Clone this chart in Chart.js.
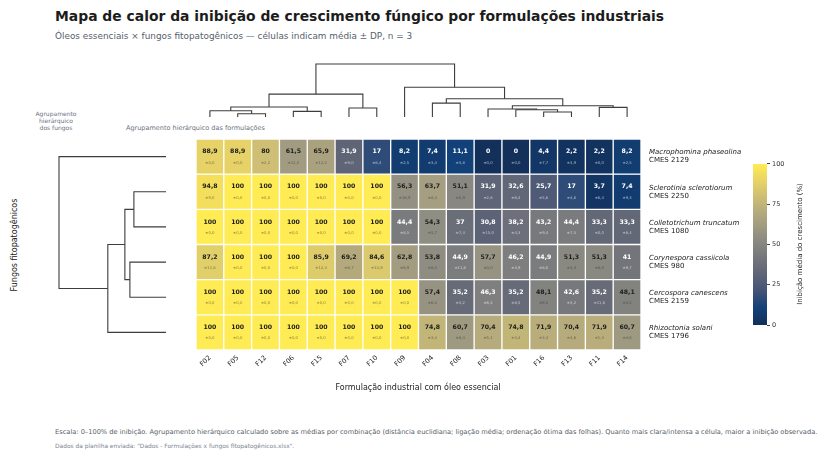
<!DOCTYPE html>
<html lang="pt-BR">
<head>
<meta charset="utf-8">
<script src="https://cdn.jsdelivr.net/npm/chart.js@4.4.1/dist/chart.umd.min.js"></script>
<style>
    body { margin: 0; background: #fff; font-family: "DejaVu Sans", sans-serif; }
    #page { position: relative; width: 821px; height: 451px; overflow: hidden; background: #fff; }
    .box { position: absolute; }
    .txt { position: absolute; white-space: nowrap; }
</style>
</head>
<body>
<div id="page">
    <div class="txt" style="left:55px; top:8px; font-size:13.9px; font-weight:bold; color:#1c1c1c;">Mapa de calor da inibição de crescimento fúngico por formulações industriais</div>
    <div class="txt" style="left:55px; top:31px; font-size:8.9px; color:#56606c;">Óleos essenciais × fungos fitopatogênicos — células indicam média ± DP, n = 3</div>

    <div class="txt" style="left:26px; top:110px; width:60px; text-align:center; font-size:6px; line-height:7px; color:#6b7280;">Agrupamento<br>hierárquico<br>dos fungos</div>
    <div class="txt" style="left:126px; top:124px; font-size:6.5px; color:#6b7280;">Agrupamento hierárquico das formulações</div>

    <div class="box" style="left:192px; top:60px;"><canvas id="dendroTop" width="453" height="61"></canvas></div>
    <div class="box" style="left:55px; top:135px;"><canvas id="dendroLeft" width="115" height="219"></canvas></div>
    <div class="box" style="left:150px; top:125px;"><canvas id="heatmap" width="600" height="260"></canvas></div>
    <div class="box" style="left:749px; top:158px;"><canvas id="colorbar" width="40" height="173"></canvas></div>

    <div class="txt" style="left:800px; top:244px; font-size:7px; color:#222; transform:translate(-50%,-50%) rotate(-90deg);">Inibição média do crescimento (%)</div>
    <div class="txt" style="left:14px; top:245px; font-size:8px; color:#222; transform:translate(-50%,-50%) rotate(-90deg);">Fungos fitopatogênicos</div>
    <div class="txt" style="left:418px; top:387px; font-size:8px; color:#222; transform:translate(-50%,-50%);">Formulação industrial com óleo essencial</div>

    <div class="txt" style="left:55px; top:428px; font-size:6.65px; color:#555d68;">Escala: 0–100% de inibição. Agrupamento hierárquico calculado sobre as médias por combinação (distância euclidiana; ligação média; ordenação ótima das folhas). Quanto mais clara/intensa a célula, maior a inibição observada.</div>
    <div class="txt" style="left:55px; top:443px; font-size:5.9px; color:#7b8491;">Dados da planilha enviada: "Dados - Formulações x fungos fitopatogênicos.xlsx".</div>
</div>

<script>
// Data
const formulacoes = ['F02', 'F05', 'F12', 'F06', 'F15', 'F07', 'F10', 'F09', 'F04', 'F08', 'F03', 'F01', 'F16', 'F13', 'F11', 'F14'];
const fungos = ['Macrophomina phaseolina', 'Sclerotinia sclerotiorum', 'Colletotrichum truncatum', 'Corynespora cassiicola', 'Cercospora canescens', 'Rhizoctonia solani'];
const isolados = ['CMES 2129', 'CMES 2250', 'CMES 1080', 'CMES 980', 'CMES 2159', 'CMES 1796'];

const mediaInibicao = [
    [88.9, 88.9, 80, 61.5, 65.9, 31.9, 17, 8.2, 7.4, 11.1, 0, 0, 4.4, 2.2, 2.2, 8.2],
    [94.8, 100, 100, 100, 100, 100, 100, 56.3, 63.7, 51.1, 31.9, 32.6, 25.7, 17, 3.7, 7.4],
    [100, 100, 100, 100, 100, 100, 100, 44.4, 54.3, 37, 30.8, 38.2, 43.2, 44.4, 33.3, 33.3],
    [87.2, 100, 100, 100, 85.9, 69.2, 84.6, 62.8, 53.8, 44.9, 57.7, 46.2, 44.9, 51.3, 51.3, 41],
    [100, 100, 100, 100, 100, 100, 100, 100, 57.4, 35.2, 46.3, 35.2, 48.1, 42.6, 35.2, 48.1],
    [100, 100, 100, 100, 100, 100, 100, 100, 74.8, 60.7, 70.4, 74.8, 71.9, 70.4, 71.9, 60.7]
];
const desvioPadrao = [
    [0, 0, 2.2, 12.2, 12.2, 9.0, 8.4, 2.5, 3.4, 3.8, 0, 0, 7.7, 3.9, 0, 2.5],
    [9.0, 0, 0, 0, 0, 0, 0, 18.9, 8.4, 5.9, 2.6, 6.4, 5.6, 4.6, 6.4, 9.3],
    [0, 0, 0, 0, 0, 0, 0, 6.5, 5.7, 7.4, 15.0, 4.3, 9.4, 7.5, 0, 6.4],
    [11.8, 0, 0, 0, 12.4, 6.7, 13.9, 8.9, 8.0, 11.8, 0, 3.9, 8.0, 4.4, 8.0, 9.7],
    [0, 0, 0, 0, 0, 0, 0, 0, 6.4, 3.2, 6.4, 8.5, 6.5, 3.2, 11.6, 3.2],
    [0, 0, 0, 0, 0, 0, 0, 0, 3.4, 8.4, 5.1, 3.4, 3.4, 4.6, 1.3, 4.6]
];

// linkage: [child a, child b, height]  (leaves = display order, clusters numbered from n)
const linkFormulacoes = [
    [1, 2, 10], [0, 16, 19], [3, 4, 17], [17, 18, 30], [5, 6, 27], [19, 20, 69],
    [8, 9, 42], [12, 13, 15], [11, 23, 22], [10, 24, 24], [14, 15, 29], [25, 26, 34],
    [22, 27, 55], [7, 28, 90], [21, 29, 160]
];
const linkFungos = [[1, 2, 96], [3, 4, 108], [6, 7, 123], [8, 5, 174], [0, 9, 320]];

const colorbarTicks = [0, 25, 50, 75, 100];

// cividis colormap
const cividisStops = ['#00204D', '#00336F', '#39486B', '#575C6D', '#707173', '#8A8779', '#A69D75', '#C4B56C', '#E4CF5B', '#FFEA46'];

function hexRgb(h) {
    return [parseInt(h.slice(1, 3), 16), parseInt(h.slice(3, 5), 16), parseInt(h.slice(5, 7), 16)];
}

function cividis(t, alpha = 1) {
    t = Math.max(0, Math.min(1, t));
    const p = t * (cividisStops.length - 1);
    const i = Math.min(Math.floor(p), cividisStops.length - 2);
    const f = p - i;
    const a = hexRgb(cividisStops[i]), b = hexRgb(cividisStops[i + 1]);
    const c = a.map((v, k) => Math.round(v + (b[k] - v) * f));
    return `rgba(${c[0]}, ${c[1]}, ${c[2]}, ${alpha})`;
}

const fmt = v => (Math.round(v * 10) / 10).toString().replace('.', ',');

// --- dendrogram links from linkage ---
function dendroLinks(n, merges) {
    const pos = [], hgt = [];
    for (let i = 0; i < n; i++) { pos[i] = i; hgt[i] = 0; }
    return merges.map(([a, b, h], k) => {
        pos[n + k] = (pos[a] + pos[b]) / 2;
        hgt[n + k] = h;
        return [[pos[a], hgt[a]], [pos[a], h], [pos[b], h], [pos[b], hgt[b]]];
    });
}

const lineStyle = { borderColor: '#3d3d3d', borderWidth: 1.1, pointRadius: 0, showLine: true, tension: 0, clip: false };
const baseOpts = {
    responsive: false,
    animation: false,
    events: [],
    plugins: { legend: { display: false }, tooltip: { enabled: false } }
};

// --- 1. Column dendrogram ---
new Chart(document.getElementById('dendroTop'), {
    type: 'scatter',
    data: {
        datasets: dendroLinks(formulacoes.length, linkFormulacoes).map(link => ({
            ...lineStyle,
            data: link.map(([p, h]) => ({ x: p, y: h }))
        }))
    },
    options: {
        ...baseOpts,
        layout: { padding: 4 },
        scales: {
            x: { display: false, min: -0.5, max: formulacoes.length - 0.5 },
            y: { display: false, min: 0, max: 160 }
        }
    }
});

// --- 2. Row dendrogram ---
new Chart(document.getElementById('dendroLeft'), {
    type: 'scatter',
    data: {
        datasets: dendroLinks(fungos.length, linkFungos).map(link => ({
            ...lineStyle,
            data: link.map(([p, h]) => ({ x: h, y: p }))
        }))
    },
    options: {
        ...baseOpts,
        layout: { padding: { left: 4, right: 4, top: 4, bottom: 4 } },
        scales: {
            x: { display: false, min: 0, max: 320, reverse: true },
            y: { display: false, min: -0.5, max: fungos.length - 0.5, reverse: true }
        }
    }
});

// --- 3. Heatmap ---
const cellText = {
    id: 'cellText',
    afterDatasetsDraw(chart) {
        const ctx = chart.ctx;
        ctx.save();
        ctx.textAlign = 'center';
        ctx.textBaseline = 'middle';
        chart.data.datasets.forEach((ds, r) => {
            chart.getDatasetMeta(r).data.forEach((bar, c) => {
                const v = mediaInibicao[r][c];
                const sd = desvioPadrao[r][c];
                const cy = (bar.y + bar.base) / 2;
                const dark = v >= 47;
                ctx.fillStyle = dark ? '#1e1e1e' : '#ffffff';
                ctx.font = 'bold 6.2px "DejaVu Sans"';
                ctx.fillText(fmt(v), bar.x, cy - 5);
                ctx.fillStyle = dark ? 'rgba(40,40,40,0.55)' : 'rgba(255,255,255,0.6)';
                ctx.font = '3.8px "DejaVu Sans"';
                ctx.fillText('±' + sd.toFixed(1).replace('.', ','), bar.x, cy + 6);
            });
        });
        ctx.restore();
    }
};

const rowLabels = {
    id: 'rowLabels',
    afterDraw(chart) {
        const ctx = chart.ctx;
        const y = chart.scales.y;
        const x0 = chart.chartArea.right + 8;
        ctx.save();
        ctx.textAlign = 'left';
        ctx.textBaseline = 'middle';
        ctx.fillStyle = '#1a1a1a';
        fungos.forEach((name, r) => {
            const cy = y.getPixelForValue(r + 0.5);
            ctx.font = 'italic 7px "DejaVu Sans"';
            ctx.fillText(name, x0, cy - 4);
            ctx.font = '7px "DejaVu Sans"';
            ctx.fillText(isolados[r], x0, cy + 4);
        });
        ctx.restore();
    }
};

new Chart(document.getElementById('heatmap'), {
    type: 'bar',
    data: {
        labels: formulacoes,
        datasets: fungos.map((name, r) => ({
            label: name,
            data: formulacoes.map(() => 1),
            backgroundColor: mediaInibicao[r].map(v => cividis(v / 100, 0.93)),
            borderColor: '#ffffff',
            borderWidth: 1,
            borderSkipped: false,
            barPercentage: 1,
            categoryPercentage: 1
        }))
    },
    options: {
        ...baseOpts,
        layout: { padding: { left: 46, right: 109, top: 14, bottom: 7 } },
        scales: {
            x: {
                stacked: true,
                grid: { display: false, drawTicks: false },
                border: { display: false },
                ticks: { minRotation: 45, maxRotation: 45, padding: 4, color: '#222', font: { family: 'DejaVu Sans', size: 6.7 } },
                afterFit: s => { s.height = 28; }
            },
            y: { stacked: true, display: false, min: 0, max: fungos.length, reverse: true }
        }
    },
    plugins: [cellText, rowLabels]
});

// --- 4. Colorbar ---
new Chart(document.getElementById('colorbar'), {
    type: 'bar',
    data: {
        labels: [''],
        datasets: [{
            data: [100],
            barPercentage: 1,
            categoryPercentage: 1,
            backgroundColor: ctx => {
                const area = ctx.chart.chartArea;
                if (!area) return '#888';
                const g = ctx.chart.ctx.createLinearGradient(0, area.bottom, 0, area.top);
                cividisStops.forEach((c, i) => g.addColorStop(i / (cividisStops.length - 1), cividis(i / (cividisStops.length - 1), 0.93)));
                return g;
            }
        }]
    },
    options: {
        ...baseOpts,
        layout: { padding: { left: 4, right: 0, top: 5, bottom: 5 } },
        scales: {
            x: { display: false },
            y: {
                position: 'right',
                min: 0,
                max: 100,
                afterBuildTicks: s => { s.ticks = colorbarTicks.map(v => ({ value: v })); },
                grid: { drawOnChartArea: false, tickLength: 3, color: '#444' },
                border: { display: false },
                ticks: { padding: 2, color: '#333', font: { family: 'DejaVu Sans', size: 6.5 } },
                afterFit: s => { s.width = 22; }
            }
        }
    }
});
</script>
</body>
</html>
